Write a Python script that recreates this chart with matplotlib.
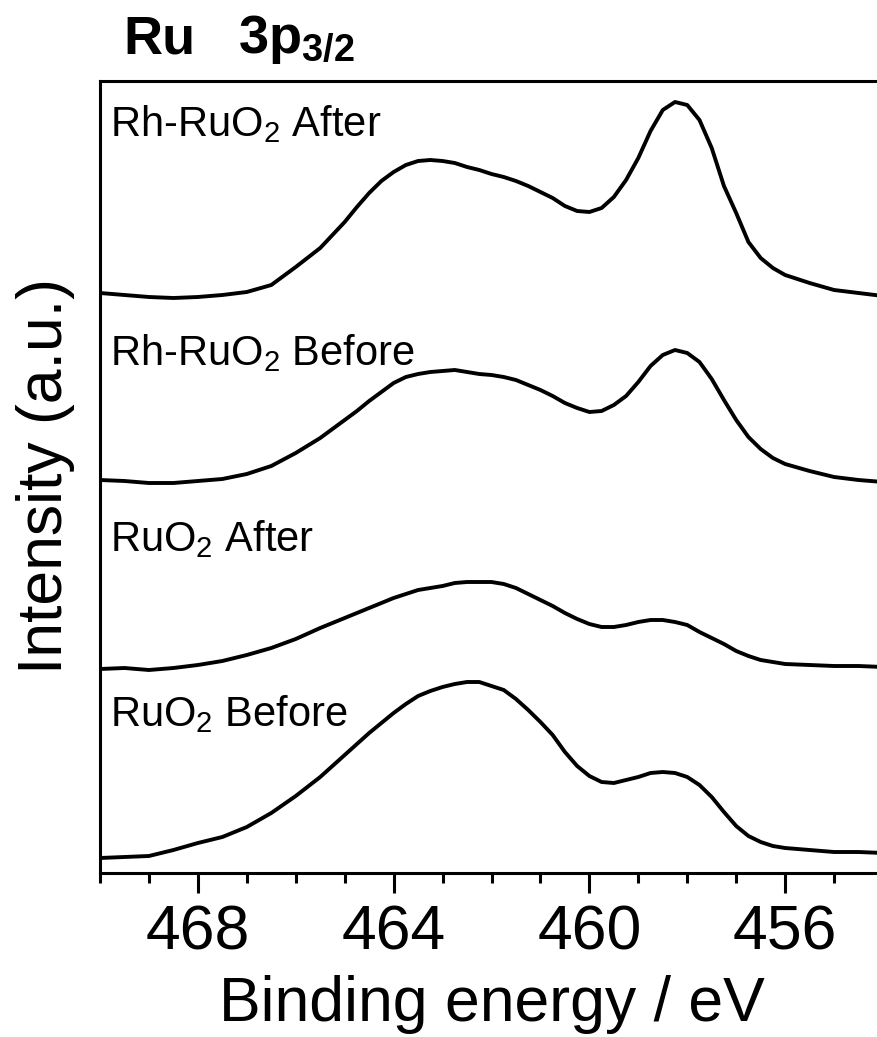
import numpy as np
import matplotlib
matplotlib.use("Agg")
import matplotlib.pyplot as plt

plt.rcParams['font.family'] = ['Liberation Sans', 'DejaVu Sans']
plt.rcParams['mathtext.fontset'] = 'custom'
plt.rcParams['mathtext.rm'] = 'Liberation Sans'
plt.rcParams['mathtext.it'] = 'Liberation Sans:italic'
plt.rcParams['mathtext.bf'] = 'Liberation Sans:bold'

# binding energy grid (eV)
energy = np.array([470, 469.5, 469, 468.5, 468, 467.5, 467, 466.5, 466, 465.5,
                   465, 464.75, 464.5, 464.25, 464, 463.75, 463.5, 463.25, 463, 462.75,
                   462.5, 462.25, 462, 461.75, 461.5, 461.25, 461, 460.75, 460.5, 460.25,
                   460, 459.75, 459.5, 459.25, 459, 458.75, 458.5, 458.25, 458, 457.75,
                   457.5, 457.25, 457, 456.75, 456.5, 456.25, 456, 455.5, 455, 454.5, 454])

# stacked intensities (a.u., offsets included)
rh_after = [580, 578, 576, 575, 576, 578, 581, 588, 606, 625,
            651, 666, 680, 692, 701, 708, 712, 713, 712, 710,
            706, 703, 699, 696, 692, 687, 681, 675, 667, 662,
            661, 665, 676, 693, 715, 742, 763, 771, 768, 753,
            725, 687, 660, 631, 615, 605, 598, 590, 583, 580, 577]
rh_before = [393, 392, 390, 390, 392, 394, 399, 407, 420, 435,
             453, 462, 472, 481, 490, 496, 499, 501, 502, 503,
             501, 499, 498, 496, 493, 488, 483, 477, 470, 465,
             461, 462, 468, 477, 491, 507, 518, 523, 520, 511,
             494, 473, 453, 436, 424, 415, 409, 402, 396, 393, 391]
ru_after = [204, 205, 203, 205, 208, 212, 218, 225, 234, 245,
            255, 260, 265, 270, 275, 279, 283, 285, 287, 290,
            291, 291, 291, 289, 285, 279, 273, 267, 260, 254,
            249, 246, 246, 248, 251, 253, 253, 251, 248, 241,
            235, 229, 222, 217, 213, 211, 209, 208, 207, 207, 206]
ru_before = [15, 16, 17, 23, 30, 36, 46, 60, 77, 96,
             118, 129, 140, 150, 160, 169, 177, 182, 186, 189,
             191, 191, 187, 183, 174, 163, 151, 138, 121, 107,
             97, 91, 90, 93, 96, 100, 101, 100, 96, 88,
             76, 61, 47, 37, 31, 27, 25, 23, 21, 21, 20]

labels = [r"Rh-RuO$_2$ After", r"Rh-RuO$_2$ Before", r"RuO$_2$ After", r"RuO$_2$ Before"]
label_y = [737, 508, 322, 147]

fig = plt.figure(figsize=(8.78, 10.37), dpi=100)
ax = fig.add_axes([100/878, 164.5/1037, 783/878, 792/1037])

for s in [rh_after, rh_before, ru_after, ru_before]:
    ax.plot(energy, s, color='black', linewidth=2.8, solid_joinstyle='round')

for lab, yy in zip(labels, label_y):
    ax.text(469.8, yy, lab, fontsize=30, va='baseline', ha='left')

ax.set_xlim(470, 454)
ax.set_ylim(0.5, 792.5)
ax.set_xticks([468, 464, 460, 456])
ax.set_xticks(np.arange(454, 471, 1), minor=True)
ax.set_yticks([])
for sp in ax.spines.values():
    sp.set_linewidth(2.2)
ax.tick_params(axis='x', which='major', direction='out', length=14.4, width=2.2,
               labelsize=45, pad=8)
ax.tick_params(axis='x', which='minor', direction='out', length=7.2, width=2.2)

ax.set_xlabel("Binding energy / eV", fontsize=45, labelpad=9)
ax.set_ylabel("Intensity (a.u.)", fontsize=45, labelpad=18)

fig.text(123/878, 1 - 53/1037, "Ru", fontsize=39, fontweight='bold', va='baseline')
fig.text(238/878, 1 - 53/1037, r"3p$_{\mathbf{3/2}}$", fontsize=39, fontweight='bold', va='baseline')

plt.savefig("out.png", dpi=100)
